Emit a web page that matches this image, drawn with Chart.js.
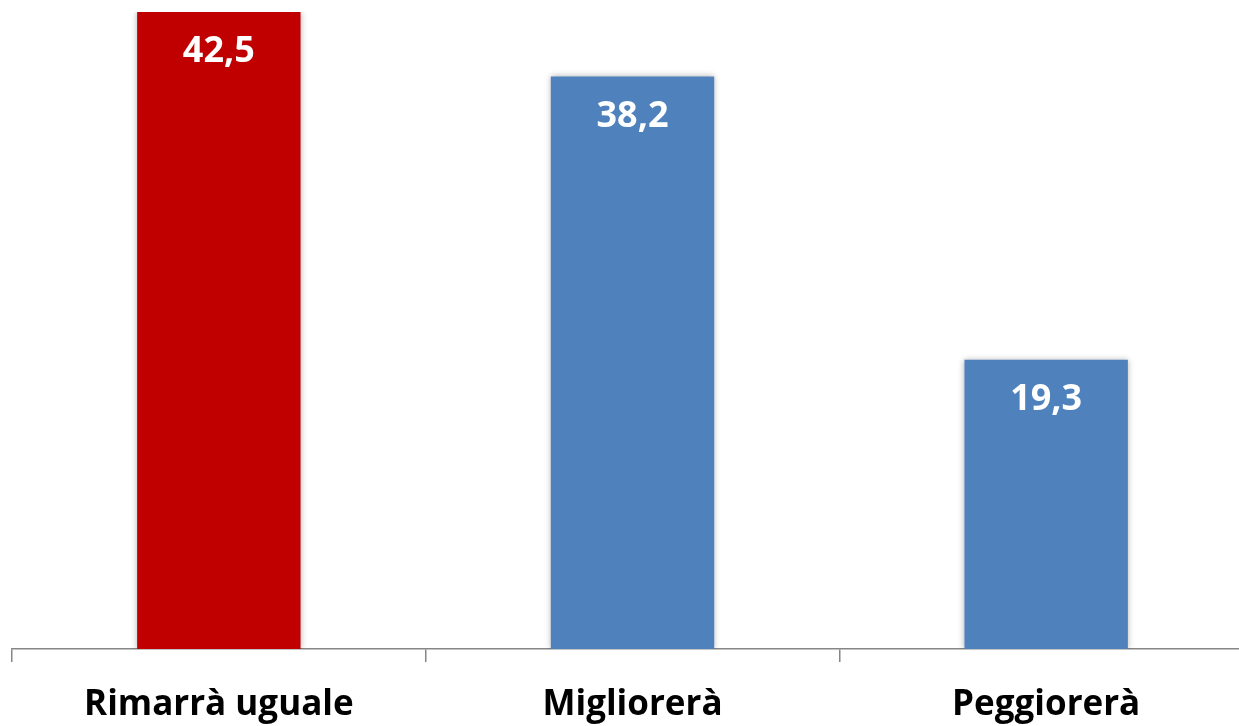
<!DOCTYPE html>
<html>
<head>
<meta charset="utf-8">
<script src="https://cdn.jsdelivr.net/npm/chart.js@4.4.0/dist/chart.umd.min.js"></script>
<style>
  html, body { margin: 0; padding: 0; background: #fff; overflow: hidden; }
  #wrap { width: 1260px; height: 748px; }
</style>
</head>
<body>
<div id="wrap"><canvas id="barChart" width="1260" height="748"></canvas></div>
<script>
const categories = ['Rimarrà uguale', 'Migliorerà', 'Peggiorerà'];
const values = [42.5, 38.2, 19.3];
const barColors = ['#C00000', '#4F81BD', '#4F81BD'];

// white value labels inside the top of each bar
const valueLabels = {
    id: 'valueLabels',
    afterDatasetsDraw(chart) {
        const c = chart.ctx;
        const meta = chart.getDatasetMeta(0);
        c.save();
        c.fillStyle = '#ffffff';
        c.font = 'bold 36px "Open Sans"';
        c.textAlign = 'center';
        c.textBaseline = 'middle';
        meta.data.forEach((bar, i) => {
            const txt = values[i].toFixed(1).replace('.', ',');
            c.fillText(txt, bar.x, bar.y + 40);
        });
        c.restore();
    }
};

// soft grey halo round the bars
const barShadow = {
    id: 'barShadow',
    beforeDatasetDraw(chart) {
        chart.ctx.save();
        chart.ctx.shadowColor = 'rgba(0,0,0,0.3)';
        chart.ctx.shadowBlur = 6;
    },
    afterDatasetDraw(chart) {
        chart.ctx.restore();
    }
};

const ctx = document.getElementById('barChart').getContext('2d');
new Chart(ctx, {
    type: 'bar',
    data: {
        labels: categories,
        datasets: [{
            data: values,
            backgroundColor: barColors,
            borderWidth: 0,
            barPercentage: 0.395,
            categoryPercentage: 1
        }]
    },
    options: {
        responsive: false,
        animation: false,
        layout: { padding: { left: 12, right: 7, top: 12, bottom: 0 } },
        plugins: {
            legend: { display: false },
            tooltip: { enabled: false }
        },
        scales: {
            x: {
                grid: {
                    offset: true,
                    drawOnChartArea: false,
                    drawTicks: true,
                    tickLength: 13,
                    color: '#868686',
                    lineWidth: 1.5
                },
                border: { display: true, color: '#868686', width: 1.5 },
                ticks: {
                    color: '#000000',
                    padding: 22,
                    font: { family: '"Open Sans"', size: 35, weight: 'bold' }
                }
            },
            y: {
                display: false,
                min: 0,
                max: 42.5
            }
        }
    },
    plugins: [barShadow, valueLabels]
});
</script>
</body>
</html>
